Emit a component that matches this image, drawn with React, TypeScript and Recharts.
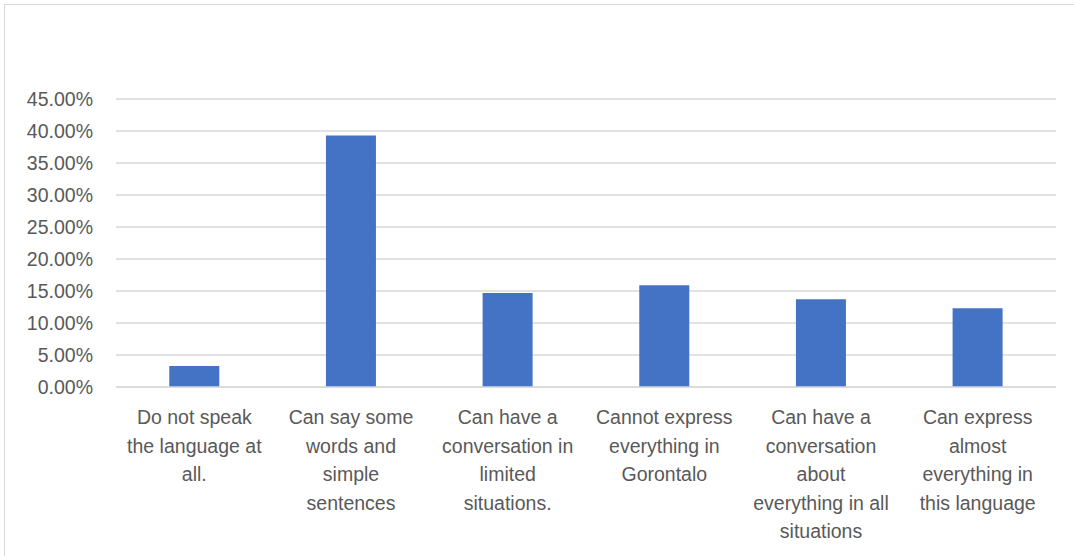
import { BarChart, Bar, XAxis, YAxis, CartesianGrid } from 'recharts';

// Proficiency categories (line breaks as they wrap in the original)
const categories = [
  'Do not speak\nthe language at\nall.',
  'Can say some\nwords and\nsimple\nsentences',
  'Can have a\nconversation in\nlimited\nsituations.',
  'Cannot express\neverything in\nGorontalo',
  'Can have a\nconversation\nabout\neverything in all\nsituations',
  'Can express\nalmost\neverything in\nthis language',
];

const shares = [0.033, 0.393, 0.147, 0.159, 0.137, 0.123];

const yTicks = [0, 0.05, 0.1, 0.15, 0.2, 0.25, 0.3, 0.35, 0.4, 0.45];

const data = categories.map((name, i) => ({ name, value: shares[i] }));

const FONT = '"Liberation Sans", Arial, sans-serif';
const TEXT = '#595959';
const GRID = '#d9d9d9';

function CategoryTick({ x, y, payload }: any) {
  const lines = String(payload.value).split('\n');
  return (
    <text x={x} y={y} textAnchor="middle" fill={TEXT} fontFamily={FONT} fontSize={19.5}>
      {lines.map((line, i) => (
        <tspan key={i} x={x} y={y + 37 + i * 28.5}>
          {line}
        </tspan>
      ))}
    </text>
  );
}

export default function App() {
  return (
    <div
      style={{
        position: 'absolute',
        left: 0,
        top: 0,
        width: 1074,
        height: 556,
        background: '#fff',
        overflow: 'hidden',
      }}
    >
      <div
        style={{
          position: 'absolute',
          left: 4,
          top: 4,
          width: 1100,
          height: 600,
          border: `1px solid ${GRID}`,
        }}
      />
      <div style={{ position: 'absolute', left: 0, top: 0 }}>
        <BarChart
          width={1074}
          height={556}
          data={data}
          margin={{ top: 99, right: 18, bottom: 0, left: 0 }}
          barCategoryGap="34%"
        >
          <CartesianGrid vertical={false} stroke={GRID} strokeWidth={1.5} />
          <XAxis
            dataKey="name"
            interval={0}
            tickLine={false}
            tickSize={0}
            tickMargin={0}
            axisLine={{ stroke: GRID, strokeWidth: 1.5 }}
            tick={<CategoryTick />}
            height={169}
          />
          <YAxis
            width={116}
            domain={[0, 0.45]}
            ticks={yTicks}
            interval={0}
            axisLine={false}
            tickLine={false}
            tickSize={0}
            tickMargin={23}
            tickFormatter={(v: number) => (v * 100).toFixed(2) + '%'}
            tick={{ fill: TEXT, fontSize: 19.5, fontFamily: FONT }}
          />
          <Bar dataKey="value" fill="#4472C4" isAnimationActive={false} />
        </BarChart>
      </div>
    </div>
  );
}
